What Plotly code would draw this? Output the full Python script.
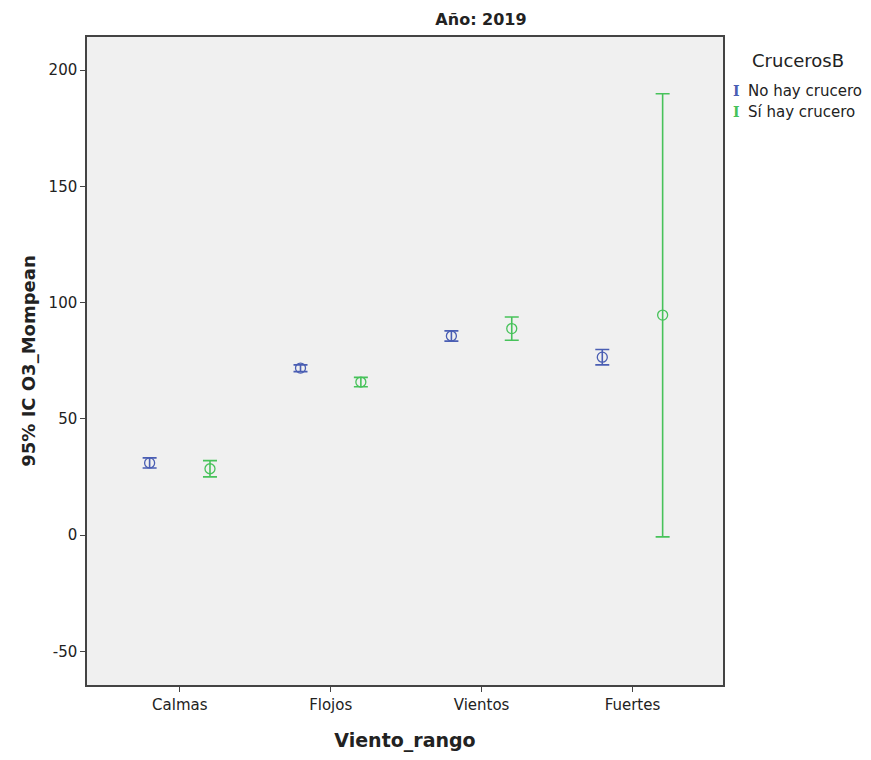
import plotly.graph_objects as go

categories = ["Calmas", "Flojos", "Vientos", "Fuertes"]
series_names = ["No hay crucero", "Sí hay crucero"]
colors = ["#4a5eb3", "#47c25a"]

no_mean = [31.0, 71.8, 85.6, 76.5]
no_low = [28.8, 70.3, 83.4, 73.2]
no_high = [33.2, 73.2, 87.8, 79.8]

si_mean = [28.5, 65.8, 88.8, 94.6]
si_low = [25.0, 63.8, 83.8, -0.8]
si_high = [32.0, 67.8, 93.8, 189.8]

y_ticks = [-50, 0, 50, 100, 150, 200]

FONT = "DejaVu Sans, Verdana, sans-serif"

fig = go.Figure()
offsets = [-0.2, 0.2]
for i, (m, lo, hi) in enumerate([(no_mean, no_low, no_high), (si_mean, si_low, si_high)]):
    xs = [k + offsets[i] for k in range(len(categories))]
    fig.add_trace(go.Scatter(
        x=xs, y=m, mode="markers", name=series_names[i], showlegend=False,
        marker=dict(symbol="circle-open", size=10, color=colors[i], line=dict(width=1.3)),
        error_y=dict(type="data", symmetric=False,
                     array=[h - v for h, v in zip(hi, m)],
                     arrayminus=[v - l for v, l in zip(m, lo)],
                     color=colors[i], thickness=1.6, width=7),
    ))

fig.update_layout(
    width=855, height=744,
    margin=dict(l=79, r=140, t=29, b=67),
    paper_bgcolor="white", plot_bgcolor="#f0f0f0",
    font=dict(family=FONT, size=15, color="#222"),
    title=dict(text="<b>Año: 2019</b>", x=473/855, xanchor="center", y=1 - 11/744, yanchor="middle",
               font=dict(size=16, color="#222")),
)
fig.update_xaxes(
    range=[-0.615, 3.6], tickmode="array", tickvals=list(range(len(categories))), ticktext=categories,
    showgrid=False, zeroline=False, showline=True, linecolor="#444", linewidth=1.5, mirror=True,
    ticks="outside", ticklen=5, tickcolor="#444", automargin=False,
    title=dict(text="<b>Viento_rango</b>", font=dict(size=19), standoff=24),
)
fig.update_yaxes(
    range=[-64.5, 214.2], tickvals=y_ticks, ticktext=[str(t) for t in y_ticks],
    showgrid=False, zeroline=False, showline=True, linecolor="#444", linewidth=1.5, mirror=True,
    ticks="outside", ticklen=5, tickcolor="#444", automargin=False,
    title=dict(text="<b>95% IC O3_Mompean</b>", font=dict(size=18), standoff=8),
)

def px_x(sx):
    return (sx - 87) / 636

def px_y(sy):
    return (685 - sy) / 648

fig.add_annotation(x=px_x(750), y=px_y(60), xref="paper", yref="paper", text="CrucerosB",
                   showarrow=False, xanchor="left", yanchor="middle", font=dict(size=18, color="#222"))
for i, name in enumerate(series_names):
    yy = px_y(91 + 21 * i)
    fig.add_annotation(x=px_x(736), y=yy, xref="paper", yref="paper", text="<b>I</b>",
                       showarrow=False, xanchor="center", yanchor="middle",
                       font=dict(size=14, color=colors[i], family="DejaVu Serif"))
    fig.add_annotation(x=px_x(746), y=yy, xref="paper", yref="paper", text=name,
                       showarrow=False, xanchor="left", yanchor="middle", font=dict(size=15, color="#222"))

fig.write_html("out.html")
